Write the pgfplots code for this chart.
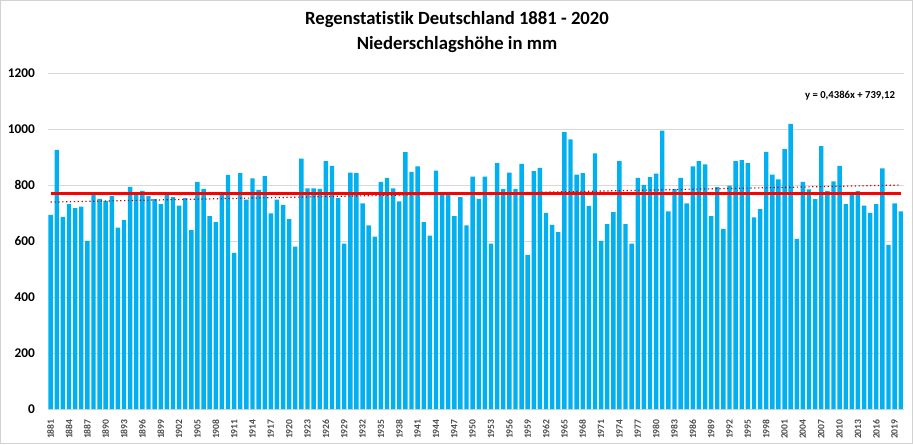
\documentclass[border=0pt]{standalone}
\usepackage{fontspec}
\setmainfont{Carlito}[Ligatures=NoCommon]
\usepackage{pgfplots}
\pgfplotsset{compat=1.18}
\usepackage{pgfplotstable}
\definecolor{barblue}{HTML}{00B0F0}
\definecolor{gridgray}{HTML}{D9D9D9}
\definecolor{trendred}{HTML}{C00000}

% Niederschlagshoehe Deutschland in mm
\pgfplotstableread{
year mm
1881 694
1882 926
1883 687
1884 732
1885 718
1886 723
1887 601
1888 767
1889 751
1890 744
1891 761
1892 648
1893 675
1894 794
1895 767
1896 780
1897 762
1898 750
1899 732
1900 767
1901 757
1902 727
1903 754
1904 639
1905 812
1906 787
1907 689
1908 668
1909 767
1910 837
1911 558
1912 843
1913 748
1914 824
1915 783
1916 832
1917 699
1918 748
1919 730
1920 679
1921 580
1922 895
1923 789
1924 789
1925 787
1926 886
1927 869
1928 755
1929 591
1930 845
1931 843
1932 735
1933 656
1934 616
1935 812
1936 826
1937 789
1938 742
1939 918
1940 848
1941 867
1942 668
1943 620
1944 852
1945 767
1946 767
1947 689
1948 757
1949 656
1950 831
1951 751
1952 831
1953 591
1954 879
1955 786
1956 845
1957 786
1958 876
1959 551
1960 850
1961 862
1962 701
1963 658
1964 632
1965 990
1966 964
1967 838
1968 843
1969 726
1970 914
1971 601
1972 661
1973 704
1974 886
1975 661
1976 591
1977 826
1978 801
1979 829
1980 841
1981 995
1982 706
1983 786
1984 826
1985 735
1986 867
1987 886
1988 874
1989 689
1990 793
1991 644
1992 798
1993 886
1994 890
1995 879
1996 685
1997 714
1998 919
1999 838
2000 821
2001 929
2002 1019
2003 608
2004 812
2005 785
2006 750
2007 940
2008 779
2009 814
2010 869
2011 732
2012 767
2013 779
2014 727
2015 701
2016 732
2017 860
2018 587
2019 735
2020 706
}\rain

\begin{document}
\begin{tikzpicture}
\useasboundingbox (0,0) rectangle (684.75pt,333pt);
\draw[gray!35, line width=0.75pt] (0.4pt,0.4pt) rectangle (684.35pt,332.6pt);
\begin{axis}[
    at={(35.7pt,26.25pt)}, anchor=south west,
    scale only axis,
    width=642.15pt, height=251.8pt,
    xmin=1880.5, xmax=2020.5,
    ymin=0, ymax=1200,
    ytick={0,200,...,1200},
    xtick={1881,1884,...,2019},
    ymajorgrids,
    grid style={gridgray, line width=0.75pt},
    axis line style={draw=none},
    major tick length=0pt,
    /pgf/number format/assume math mode=true,
    /pgf/number format/1000 sep={},
    yticklabel style={font=\fontsize{10}{12}\selectfont\bfseries, xshift=-6pt},
    xticklabel style={font=\fontsize{7.2}{8}\selectfont\bfseries, text=black!70,
        rotate=90, anchor=east, xshift=-4.3pt},
]
\addplot[ybar, bar width=0.72, fill=barblue, draw=none] table[x=year, y=mm] {\rain};
% lineare Trendlinie y = 0,4386x + 739,12 (x = 1 ... 140)
\addplot[trendred, dotted, line width=0.9pt] coordinates {(1881,739.56) (2020,800.52)};
% Mittelwert
\addplot[red, line width=1.9pt] coordinates {(1881,770) (2020,770)};
\end{axis}
\node[font=\fontsize{14}{16}\selectfont\bfseries] at (342.75pt,318pt) {Regenstatistik Deutschland 1881 - 2020};
\node[font=\fontsize{14}{16}\selectfont\bfseries] at (342.75pt,299.25pt) {Niederschlagshöhe in mm};
\node[font=\fontsize{8}{10}\selectfont\bfseries] at (637.5pt,261.2pt) {y = 0,4386x + 739,12};
\end{tikzpicture}
\end{document}
